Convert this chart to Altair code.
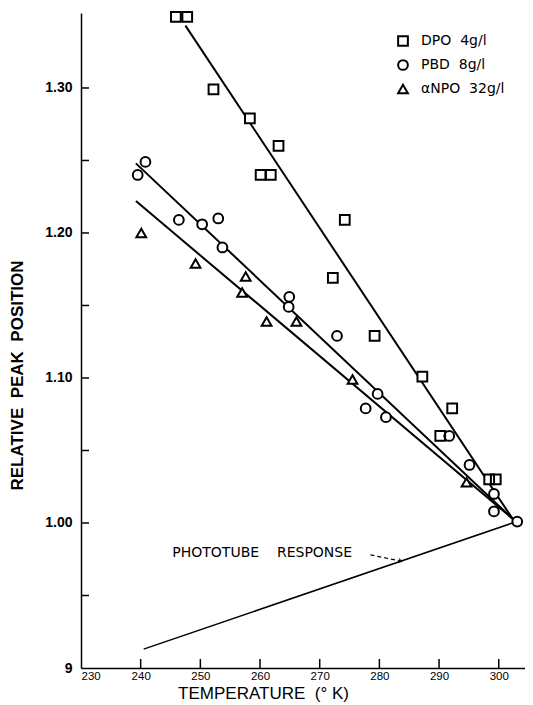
import altair as alt
import pandas as pd

NB = "\u00a0"

# ---------------- data ----------------
series_names = ["DPO" + NB * 2 + "4g/l", "PBD" + NB * 2 + "8g/l", "\u03b1NPO" + NB * 2 + "32g/l"]

dpo_T = [245.9, 247.8, 252.2, 258.3, 263.1, 260.1, 261.8, 274.2, 272.2, 279.2,
         287.2, 292.2, 290.2, 298.4, 299.5]
dpo_R = [1.349, 1.349, 1.299, 1.279, 1.260, 1.240, 1.240, 1.209, 1.169, 1.129,
         1.101, 1.079, 1.060, 1.030, 1.030]

pbd_T = [240.8, 239.5, 246.4, 250.3, 253.0, 253.7, 264.9, 264.8, 272.9, 279.7,
         277.7, 281.1, 291.7, 295.1, 299.2, 299.2, 303.1]
pbd_R = [1.249, 1.240, 1.209, 1.206, 1.210, 1.190, 1.156, 1.149, 1.129, 1.089,
         1.079, 1.073, 1.060, 1.040, 1.020, 1.008, 1.001]

npo_T = [240.1, 249.2, 257.6, 257.0, 261.1, 266.1, 275.5, 294.6]
npo_R = [1.200, 1.179, 1.170, 1.159, 1.139, 1.139, 1.099, 1.028]

# fitted straight lines (start and common end point)
fit_T_start = [247.5, 239.2, 239.2]
fit_R_start = [1.343, 1.248, 1.222]
fit_T_end = 302.3
fit_R_end = 1.003

# phototube response line
photo_T = [240.5, 302.3]
photo_R = [0.913, 1.000]

# annotation
note_text = "PHOTOTUBE" + NB * 4 + "RESPONSE"
note_T = [245.3]
note_R = [0.979]
arrow_T = [278.5, 283.6]
arrow_R = [0.978, 0.9737]

# axes
x_domain = [230, 304.4]
y_domain = [0.9, 1.3517]
x_label_values = [230, 240, 250, 260, 270, 280, 290, 300]
x_tick_values = [240, 250, 260, 270, 280, 290, 300]
y_label_values = [0.9, 1.0, 1.1, 1.2, 1.3]
y_tick_values = [0.95, 1.00, 1.05, 1.10, 1.15, 1.20, 1.25, 1.30]

# ---------------- tables ----------------
pts = pd.DataFrame(
    [{"series": series_names[0], "T": t, "R": r} for t, r in zip(dpo_T, dpo_R)]
    + [{"series": series_names[1], "T": t, "R": r} for t, r in zip(pbd_T, pbd_R)]
    + [{"series": series_names[2], "T": t, "R": r} for t, r in zip(npo_T, npo_R)]
)
fits = pd.DataFrame(
    [{"series": s, "T": t0, "R": r0} for s, t0, r0 in zip(series_names, fit_T_start, fit_R_start)]
    + [{"series": s, "T": fit_T_end, "R": fit_R_end} for s in series_names]
)
photo = pd.DataFrame({"T": photo_T, "R": photo_R})
note = pd.DataFrame({"T": note_T, "R": note_R, "txt": [note_text]})
arrow = pd.DataFrame({"T": arrow_T, "R": arrow_R})
arrow_head = arrow.tail(1)
yt = pd.DataFrame({"R": y_tick_values})
xt = pd.DataFrame({"T": x_tick_values})

W, H = 444, 655
LBL = "Liberation Sans"

xs = alt.Scale(domain=x_domain, nice=False, zero=False)
ys = alt.Scale(domain=y_domain, nice=False, zero=False)
shape_scale = alt.Scale(domain=series_names, range=["square", "circle", "triangle-up"])

x_axis = alt.Axis(
    values=x_label_values, format="d", ticks=False, grid=False,
    domainColor="black", domainWidth=1.5,
    labelFont=LBL, labelFontSize=11.5, labelColor="black", labelPadding=2,
    title="TEMPERATURE" + NB * 2 + "(\u00b0" + NB + "K)", titleFont=LBL, titleFontSize=17,
    titleFontWeight="normal", titleColor="black",
    titleX=182, titleY=30, titleBaseline="alphabetic", titleAlign="center",
)
y_axis = alt.Axis(
    values=y_label_values, ticks=False, grid=False,
    labelExpr="datum.value < 0.95 ? '9' : format(datum.value, '.2f')",
    domainColor="black", domainWidth=1.5,
    labelFont=LBL, labelFontSize=14, labelFontWeight="bold", labelColor="black",
    labelPadding=9,
    title="RELATIVE" + NB * 2 + "PEAK" + NB * 2 + "POSITION", titleFont=LBL, titleFontSize=17,
    titleFontWeight="bold", titleColor="black",
    titleX=-55, titleY=362, titleAngle=270, titleAlign="center",
    titleBaseline="bottom",
)

lines = alt.Chart(fits).mark_line(color="black", strokeWidth=2).encode(
    x=alt.X("T:Q", scale=xs, axis=x_axis),
    y=alt.Y("R:Q", scale=ys, axis=y_axis),
    detail="series:N",
)

photo_line = alt.Chart(photo).mark_line(color="black", strokeWidth=1.5).encode(
    x=alt.X("T:Q", scale=xs), y=alt.Y("R:Q", scale=ys)
)

arrow_line = alt.Chart(arrow).mark_line(color="black", strokeWidth=1.2, strokeDash=[4, 3]).encode(
    x=alt.X("T:Q", scale=xs), y=alt.Y("R:Q", scale=ys)
)
arrow_tip = alt.Chart(arrow_head).mark_point(
    shape="triangle-right", filled=True, color="black", size=30, angle=12
).encode(x=alt.X("T:Q", scale=xs), y=alt.Y("R:Q", scale=ys))

note_txt = alt.Chart(note).mark_text(
    align="left", baseline="middle", font="DejaVu Sans", fontSize=14, color="black"
).encode(x=alt.X("T:Q", scale=xs), y=alt.Y("R:Q", scale=ys), text="txt:N")

# white backing so that the fit lines are broken under the hollow markers
backing = alt.Chart(pts).mark_point(
    filled=True, color="white", size=95, opacity=1
).encode(
    x=alt.X("T:Q", scale=xs),
    y=alt.Y("R:Q", scale=ys),
    shape=alt.Shape("series:N", scale=shape_scale, legend=None),
)

points = alt.Chart(pts).mark_point(
    filled=False, color="black", strokeWidth=2, size=95, opacity=1
).encode(
    x=alt.X("T:Q", scale=xs),
    y=alt.Y("R:Q", scale=ys),
    shape=alt.Shape(
        "series:N",
        scale=shape_scale,
        legend=alt.Legend(
            title=None, orient="none", legendX=315, legendY=21,
            labelFont="DejaVu Sans", labelFontSize=14, labelColor="black",
            labelOffset=11, rowPadding=6, padding=0,
            symbolStrokeColor="black", symbolStrokeWidth=2, symbolSize=95,
        ),
    ),
)

ytick_marks = alt.Chart(yt).mark_rule(color="black", strokeWidth=1.5).encode(
    y=alt.Y("R:Q", scale=ys), x=alt.value(0), x2=alt.value(8)
)
xtick_marks = alt.Chart(xt).mark_rule(color="black", strokeWidth=1.5).encode(
    x=alt.X("T:Q", scale=xs), y=alt.value(H), y2=alt.value(H - 9)
)

chart = (
    alt.layer(lines, photo_line, arrow_line, arrow_tip, note_txt, backing, points,
              ytick_marks, xtick_marks)
    .resolve_scale(shape="independent")
    .resolve_legend(shape="independent")
    .properties(
        width=W, height=H,
        autosize=alt.AutoSizeParams(type="none"),
        padding={"left": 73, "top": 5, "right": 0, "bottom": 35},
        background="white",
    )
    .configure_view(stroke=None)
)

chart.save("out.html", embed_options={"renderer": "svg", "actions": False})
